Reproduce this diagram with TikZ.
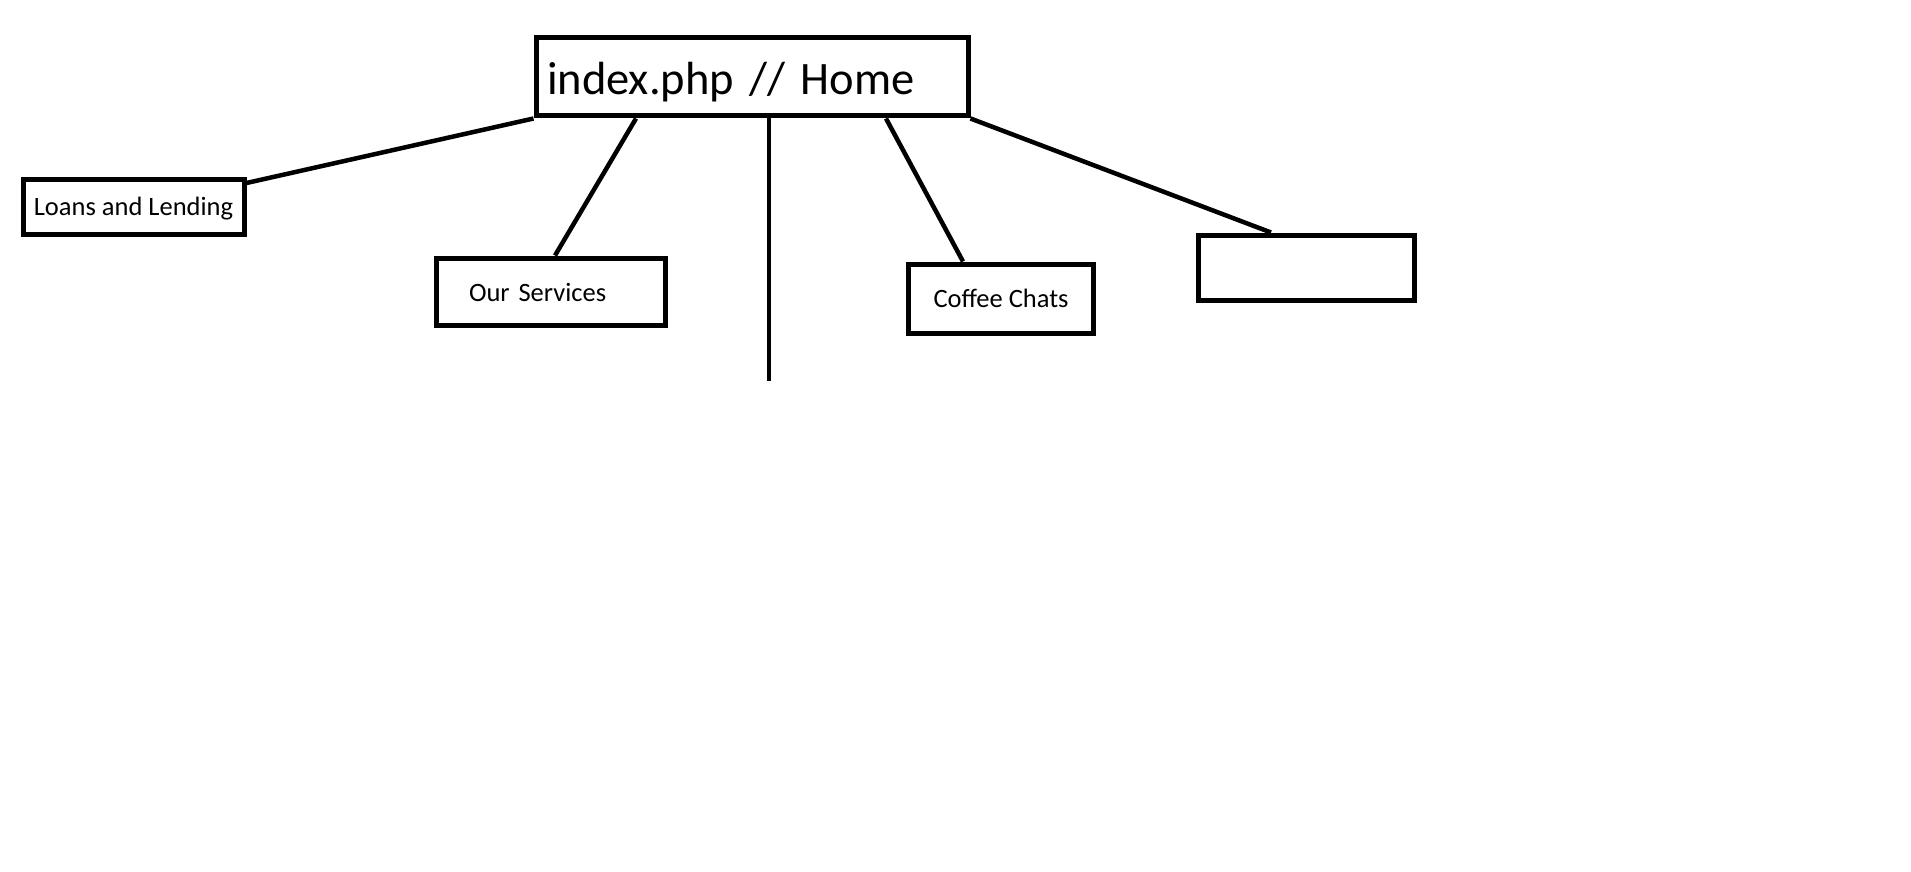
\documentclass[tikz,border=0pt]{standalone}
\usepackage{fontspec}
\setmainfont{Carlito}
\begin{document}
\begin{tikzpicture}[x=1pt,y=-1pt,
  box/.style={draw=black,line width=5pt,inner sep=0pt,rectangle},
  link/.style={draw=black,line width=4.5pt},
  big/.style={font=\fontsize{46.5}{52}\selectfont},
  small/.style={font=\fontsize{26.5}{30}\selectfont}]
\path[use as bounding box,fill=white] (0,0) rectangle (1911,872);
% Home
\node[box,big,minimum width=432pt,minimum height=78pt,text width=410pt,align=left,
  text height=36pt,text depth=0pt] (home) at (752,77) {\mbox{index.php // Home}};
% children
\node[box,small,minimum width=221pt,minimum height=55pt,text height=18pt,text depth=0pt]
  (loans) at (133.5,206.5) {Loans and Lending};
\node[box,small,minimum width=229pt,minimum height=67pt,text width=163pt,align=left,
  text height=19pt,text depth=0pt] (serv) at (550.5,291.5) {\mbox{Our Services}};
\node[box,small,minimum width=185pt,minimum height=69pt,text height=17pt,text depth=0pt]
  (coffee) at (1001,298.5) {Coffee Chats};
\node[box,minimum width=216pt,minimum height=65pt] (empty) at (1306,267.5) {};
\coordinate (vend) at (769,381);
% connectors
\draw[link] (home.south west) -- (loans.north east |- 0,183);
\draw[link] (home.south -| 636,0) -- (serv.north -| 555,0);
\draw[link] (home.south -| 769,0) -- (vend);
\draw[link] (home.south -| 886,0) -- (coffee.north -| 963,0);
\draw[link] (home.south east) -- (empty.north -| 1271,0);
\end{tikzpicture}
\end{document}
